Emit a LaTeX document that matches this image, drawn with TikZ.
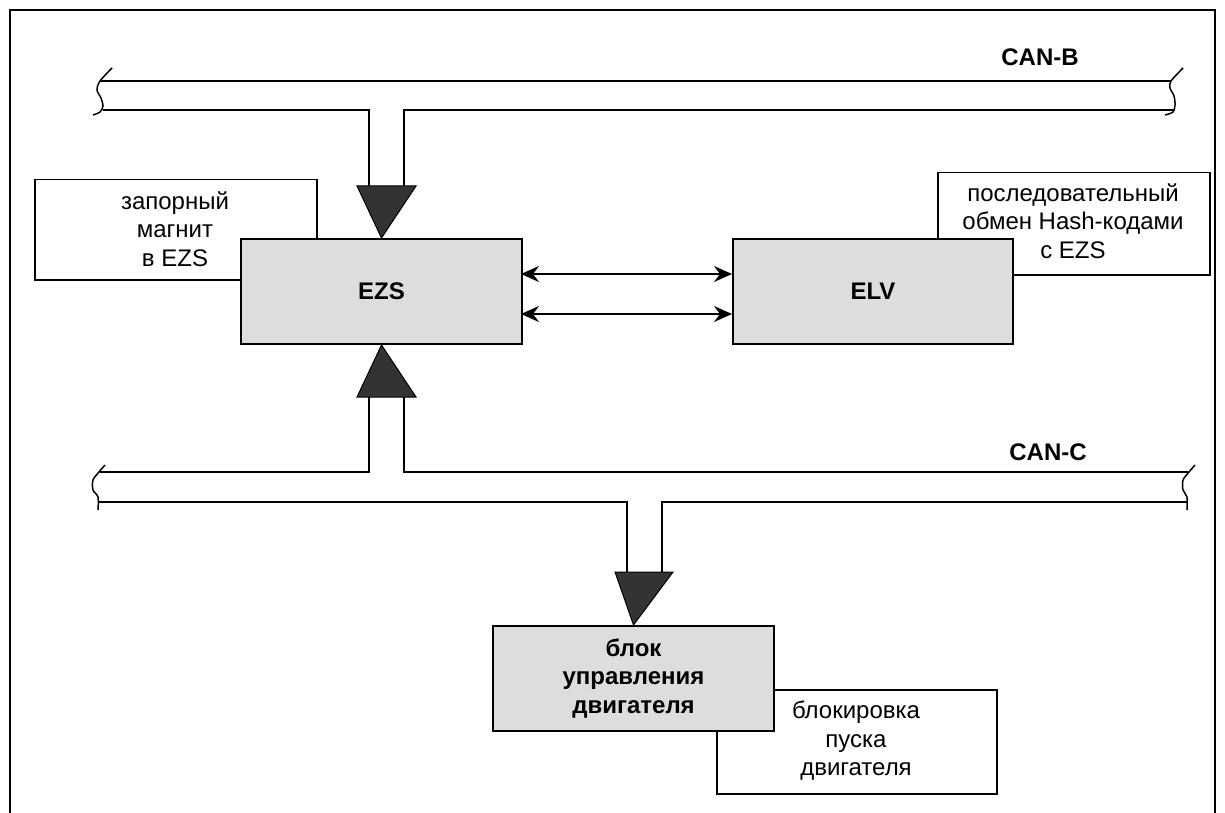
\documentclass[tikz,border=0pt]{standalone}
\usepackage{fontspec}
\setmainfont{Liberation Sans}
\usetikzlibrary{arrows.meta}
\definecolor{boxgray}{HTML}{DDDDDD}
\definecolor{tridark}{HTML}{333333}
\begin{document}
\begin{tikzpicture}[x=1pt,y=-1pt,
  every node/.style={font=\fontsize{24}{28.5}\selectfont, align=center, inner sep=0pt},
  busline/.style={line width=2pt},
  mainbox/.style={draw, line width=2pt, fill=boxgray, anchor=north west, font=\fontsize{24}{28.5}\selectfont\bfseries},
  notebox/.style={draw, line width=1.5pt, fill=white, anchor=north west},
  tri/.style={fill=tridark, draw=black, line width=1pt},
  brk/.style={line width=1.5pt},
  dblarrow/.style={line width=2pt, {Stealth[length=18pt,width=16pt,inset=6pt]}-{Stealth[length=18pt,width=16pt,inset=6pt]}},
  buslabel/.style={font=\fontsize{24}{28}\selectfont\bfseries}
]
\useasboundingbox (0,0) rectangle (1225,813);
% frame
\draw[line width=1.5pt] (10,813) -- (10,10) -- (1215,10) -- (1215,813);

% notes (behind boxes)
\node[notebox, minimum width=282pt, minimum height=100pt] (noteL) at (34,179) {};
\node at (175,229) (noteLt) {запорный\\магнит\\в EZS};
\node[notebox, minimum width=272pt, minimum height=102pt] (noteR) at (937,172) {};
\node at (1073,221) (noteRt) {последовательный\\обмен Hash-кодами\\с EZS};
\node[notebox, minimum width=280pt, minimum height=104pt] (noteE) at (716,689) {};
\node at (856,741) (noteEt) {блокировка\\пуска\\двигателя};

% main boxes
\node[mainbox, minimum width=281pt, minimum height=105pt] (ezs) at (240,238) {EZS};
\node[mainbox, minimum width=280pt, minimum height=105pt] (elv) at (732,238) {ELV};
\node[mainbox, minimum width=281pt, minimum height=105pt] (eng) at (492,625) {блок\\управления\\двигателя};

% arrows between EZS and ELV
\coordinate (a1) at (521,274); \coordinate (b1) at (732,274);
\coordinate (a2) at (521,314); \coordinate (b2) at (732,314);
\draw[dblarrow] (a1) -- (b1);
\draw[dblarrow] (a2) -- (b2);

% CAN-B bus
\draw[busline] (100,81) -- (1171,81);
\draw[busline] (103,110) -- (369,110) -- (369,186);
\draw[busline] (404,186) -- (404,110) -- (1175,110);
\draw[brk] plot[smooth] coordinates {(112,68) (100,81) (97,90) (101,98) (103,106) (100,112) (93,115)};
\draw[brk] plot[smooth] coordinates {(1183,68) (1171,81) (1170,88) (1174,96) (1175,105) (1173,112) (1165,115)};
\node[buslabel] (canb) at (1040,57) {CAN-B};
\draw[tri] (357,186) -- (416,186) -- (ezs.north) -- cycle;

% CAN-C bus
\draw[busline] (100,472) -- (369,472) -- (369,397);
\draw[busline] (404,397) -- (404,472) -- (1188,472);
\draw[busline] (98,502) -- (627,502) -- (627,572);
\draw[busline] (662,572) -- (662,502) -- (1188,502);
\draw[brk] plot[smooth] coordinates {(105,465) (99,472) (93,480) (93,490) (98,497) (98,510)};
\draw[brk] plot[smooth] coordinates {(1195,465) (1189,472) (1183,480) (1183,490) (1187,497) (1187,510)};
\node[buslabel] (canc) at (1048,452) {CAN-C};
\draw[tri] (357,397) -- (416,397) -- (ezs.south) -- cycle;
\draw[tri] (615,572) -- (673,572) -- (eng.north) -- cycle;
\end{tikzpicture}
\end{document}
